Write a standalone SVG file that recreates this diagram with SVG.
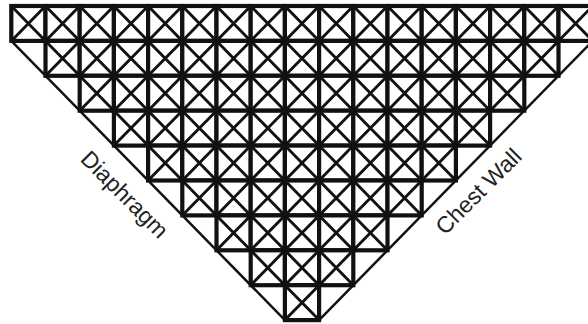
<svg xmlns="http://www.w3.org/2000/svg" xmlns:xlink="http://www.w3.org/1999/xlink" width="588" height="324" viewBox="0 0 588 324">
<style>
.frame{fill:#fff;stroke:#111;stroke-width:4.2}
.x{stroke:#111;stroke-width:2.9;fill:none}
.edge{stroke:#111;stroke-width:2.5;fill:none}
.lbl{font-family:"Liberation Sans",Arial,sans-serif;font-size:23px;fill:#222;text-anchor:middle}
</style>
<defs>
<g id="cell">
<rect class="frame" x="0" y="0" width="34.2" height="34.9"/>
<path class="x" d="M0,0 L34.2,34.9 M34.2,0 L0,34.9"/>
</g>
</defs>
<rect width="588" height="324" fill="#fff"/>
<g id="row0">
<use xlink:href="#cell" x="11.3" y="6"/><use xlink:href="#cell" x="45.5" y="6"/><use xlink:href="#cell" x="79.7" y="6"/><use xlink:href="#cell" x="113.9" y="6"/><use xlink:href="#cell" x="148.1" y="6"/><use xlink:href="#cell" x="182.3" y="6"/><use xlink:href="#cell" x="216.5" y="6"/><use xlink:href="#cell" x="250.7" y="6"/><use xlink:href="#cell" x="284.9" y="6"/><use xlink:href="#cell" x="319.1" y="6"/><use xlink:href="#cell" x="353.3" y="6"/><use xlink:href="#cell" x="387.5" y="6"/><use xlink:href="#cell" x="421.7" y="6"/><use xlink:href="#cell" x="455.9" y="6"/><use xlink:href="#cell" x="490.1" y="6"/><use xlink:href="#cell" x="524.3" y="6"/><use xlink:href="#cell" x="558.5" y="6"/>
</g>
<g id="row1">
<use xlink:href="#cell" x="45.5" y="40.9"/><use xlink:href="#cell" x="79.7" y="40.9"/><use xlink:href="#cell" x="113.9" y="40.9"/><use xlink:href="#cell" x="148.1" y="40.9"/><use xlink:href="#cell" x="182.3" y="40.9"/><use xlink:href="#cell" x="216.5" y="40.9"/><use xlink:href="#cell" x="250.7" y="40.9"/><use xlink:href="#cell" x="284.9" y="40.9"/><use xlink:href="#cell" x="319.1" y="40.9"/><use xlink:href="#cell" x="353.3" y="40.9"/><use xlink:href="#cell" x="387.5" y="40.9"/><use xlink:href="#cell" x="421.7" y="40.9"/><use xlink:href="#cell" x="455.9" y="40.9"/><use xlink:href="#cell" x="490.1" y="40.9"/><use xlink:href="#cell" x="524.3" y="40.9"/>
</g>
<g id="row2">
<use xlink:href="#cell" x="79.7" y="75.8"/><use xlink:href="#cell" x="113.9" y="75.8"/><use xlink:href="#cell" x="148.1" y="75.8"/><use xlink:href="#cell" x="182.3" y="75.8"/><use xlink:href="#cell" x="216.5" y="75.8"/><use xlink:href="#cell" x="250.7" y="75.8"/><use xlink:href="#cell" x="284.9" y="75.8"/><use xlink:href="#cell" x="319.1" y="75.8"/><use xlink:href="#cell" x="353.3" y="75.8"/><use xlink:href="#cell" x="387.5" y="75.8"/><use xlink:href="#cell" x="421.7" y="75.8"/><use xlink:href="#cell" x="455.9" y="75.8"/><use xlink:href="#cell" x="490.1" y="75.8"/>
</g>
<g id="row3">
<use xlink:href="#cell" x="113.9" y="110.7"/><use xlink:href="#cell" x="148.1" y="110.7"/><use xlink:href="#cell" x="182.3" y="110.7"/><use xlink:href="#cell" x="216.5" y="110.7"/><use xlink:href="#cell" x="250.7" y="110.7"/><use xlink:href="#cell" x="284.9" y="110.7"/><use xlink:href="#cell" x="319.1" y="110.7"/><use xlink:href="#cell" x="353.3" y="110.7"/><use xlink:href="#cell" x="387.5" y="110.7"/><use xlink:href="#cell" x="421.7" y="110.7"/><use xlink:href="#cell" x="455.9" y="110.7"/>
</g>
<g id="row4">
<use xlink:href="#cell" x="148.1" y="145.6"/><use xlink:href="#cell" x="182.3" y="145.6"/><use xlink:href="#cell" x="216.5" y="145.6"/><use xlink:href="#cell" x="250.7" y="145.6"/><use xlink:href="#cell" x="284.9" y="145.6"/><use xlink:href="#cell" x="319.1" y="145.6"/><use xlink:href="#cell" x="353.3" y="145.6"/><use xlink:href="#cell" x="387.5" y="145.6"/><use xlink:href="#cell" x="421.7" y="145.6"/>
</g>
<g id="row5">
<use xlink:href="#cell" x="182.3" y="180.5"/><use xlink:href="#cell" x="216.5" y="180.5"/><use xlink:href="#cell" x="250.7" y="180.5"/><use xlink:href="#cell" x="284.9" y="180.5"/><use xlink:href="#cell" x="319.1" y="180.5"/><use xlink:href="#cell" x="353.3" y="180.5"/><use xlink:href="#cell" x="387.5" y="180.5"/>
</g>
<g id="row6">
<use xlink:href="#cell" x="216.5" y="215.4"/><use xlink:href="#cell" x="250.7" y="215.4"/><use xlink:href="#cell" x="284.9" y="215.4"/><use xlink:href="#cell" x="319.1" y="215.4"/><use xlink:href="#cell" x="353.3" y="215.4"/>
</g>
<g id="row7">
<use xlink:href="#cell" x="250.7" y="250.3"/><use xlink:href="#cell" x="284.9" y="250.3"/><use xlink:href="#cell" x="319.1" y="250.3"/>
</g>
<g id="row8">
<use xlink:href="#cell" x="284.9" y="285.2"/>
</g>
<g id="connectors">
<path class="edge" d="M11.3,40.9 L284.9,320.1"/>
<path class="edge" d="M592.7,40.9 L319.1,320.1"/>
</g>
<g id="label-diaphragm">
<text class="lbl" transform="translate(119,200) rotate(45)">Diaphragm</text>
</g>
<g id="label-chestwall">
<text class="lbl" transform="translate(484,197) rotate(-45)">Chest Wall</text>
</g>
</svg>
